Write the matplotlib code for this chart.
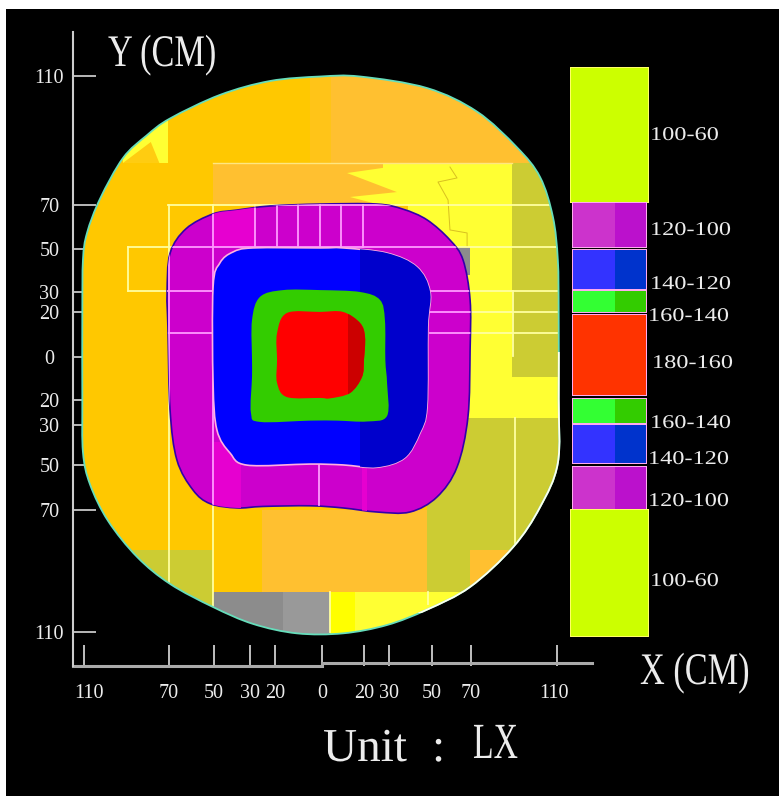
#!/usr/bin/env python3
"""Illuminance map of a circular work plane, unit LX."""

import matplotlib

matplotlib.use("Agg")

import matplotlib.pyplot as plt
from matplotlib.patches import PathPatch, Polygon, Rectangle
from matplotlib.path import Path
from matplotlib.patheffects import AbstractPathEffect
from matplotlib.transforms import Affine2D

# outlines in cm
DISC = [(-0.9, 130.6), (17.8, 130.6), (49.1, 125.2), (72.4, 114.2), (91.1, 97.5), (101.9, 83.6),
        (107.9, 65.0), (110.2, 44.9), (110.6, 20), (110.6, -20), (110.2, -50), (101.9, -70.6),
        (89.3, -89.3), (69.2, -107.9), (49.1, -118.5), (30.4, -125.7), (9.8, -129.6), (-11.7, -129.6),
        (-32.2, -125.2), (-50.9, -117.3), (-71, -106.5), (-86.4, -93.9), (-100, -77), (-108.4, -60),
        (-111.7, -45), (-112, -20), (-112, 20), (-111.7, 44.9), (-109.8, 57.5), (-103.7, 73.5),
        (-93, 92.5), (-82, 103), (-71, 111), (-47.7, 122), (-24.3, 128.5)]
BAND_100 = [(-50.9, 66.4), (-63.5, 59.5), (-71, 48), (-72.4, 29.4), (-72, 13.6), (-71, -25.2),
            (-67.8, -48.6), (-60.3, -62.6), (-52.3, -69), (-39.7, -71), (-27.6, -70.3),
            (-5.6, -70), (9.8, -71), (25.7, -72.9), (41.1, -72.9), (53.7, -65.9), (63.1, -51.9),
            (68.2, -28.5), (69.2, 2.8), (69.2, 26.2), (65.9, 44.9), (59.8, 54.2), (49.1, 63.6),
            (37.9, 68.6), (25.7, 71), (-0.9, 71), (-24.3, 70.1), (-39.7, 68.2)]
BAND_120 = [(-50.9, 32.2), (-47.7, 43.5), (-41.6, 48.6), (-32.2, 50.5), (-0.9, 50.5), (9.8, 50.5),
            (30.4, 48.1), (44.4, 41.6), (50.5, 30), (49.5, 13.6), (49.1, -23.8), (45.8, -36),
            (38.7, -47.6), (25.7, -52), (9.8, -50.9), (-5.6, -50.5), (-35, -51), (-43, -45.3),
            (-49.1, -34.6), (-50.9, -12.6)]
BAND_140 = [(-32.7, -1.9), (-32.7, 16.8), (-29, 27.6), (-18.2, 30.8), (-0.9, 30.8), (17.8, 29.9),
            (27.1, 26.2), (29.4, 16.8), (29.6, -1.9), (30.4, -12.6), (30.4, -28), (21, -30.6),
            (7, -30.2), (-5.6, -30.2), (-29, -30.8), (-33.2, -26.6), (-32.7, -9.8)]
BAND_160 = [(-21, -1.9), (-21, 10.7), (-16.4, 20.1), (-0.9, 20.6), (9.8, 20.6), (17.8, 15.4),
            (20.1, 8.9), (19.6, -1.9), (18.7, -9.8), (13.1, -17.3), (3.7, -19.8), (-0.9, -19.6),
            (-16.4, -19.2), (-21, -12.6)]

# measured zones behind the contours: (x0, x1, y0, y1) in cm
MID_ORANGE = [(-5.6, 4, 90.2, 135)]
PALE_ORANGE = [(4, 115, 90.2, 135), (-50.9, 88.8, 70.6, 90.2), (-28, 49.1, -110.3, -72)]
YELLOW = [(40, 88.8, -29, 70.6), (88.8, 115, -29, -9.8), (3.7, 70, -135, -110.3), (-93, -72, 90.2, 115)]
OLIVE = [(88.8, 115, -9.8, 90.2), (69.2, 115, -135, -29), (49.1, 69.2, -110.3, -29),
         (-95, -50.9, -135, -90.7)]
LATE_ORANGE = [(69.2, 88, -125, -90.7)]
BRIGHT_YELLOW = [(3.7, 15.4, -135, -110.3)]
GRAY = [(-50.9, 3.7, -135, -110.3), (60, 69, 38, 50.9)]
LIGHT_GRAY = [(-18.2, 3.7, -135, -110.3)]
YELLOW_WEDGE = [(28.5, 90.2), (28.5, 87.9), (11.7, 85.5), (35, 76.6), (13.1, 74.3), (27.1, 70.6),
                (88.8, 70.6), (88.8, 90.2)]
ORANGE_WEDGE = [(-93, 90.2), (-80, 100), (-76, 90.2)]
HOT_MAGENTA = [(-50.9, -31.3, 50.9, 70.6), (-50.9, -38, -72, -40), (18.7, 21, -75, -50)]

# grid traced on the disc, in cm
GRID_H = [(70.6, -72, 108), (50.9, -90.7, 110), (30.4, -90.7, -50.9), (30.4, 50.5, 110),
          (20.6, 50.5, 110), (10.7, 50.5, 110), (10.7, -72, -50.9)]
GRID_V = [(-90.7, 30.4, 50.9), (-71.5, -106, 70.6), (-50.9, -116.8, 70.6), (90.2, -89, -29),
          (89.3, 0, 30.4), (49.5, -116, -110.3), (3.7, -129, -110.3), (-31.3, 50.9, 70.6),
          (-21, 50.9, 70.6), (-11.2, 50.9, 70.6), (-0.9, 50.9, 70.6), (8.9, 50.9, 70.6),
          (19.2, 50.9, 70.6), (-1.4, -69.6, -50)]
ZIGZAG = [(59.8, 88.3), (63.1, 83.2), (54.2, 81.3), (58.9, 72.9), (59.8, 58.9), (67.8, 57.5), (67.8, 50.9)]

# ticks stand where the picture has them; its y axis is not to scale past +-70
X_TICKS = [-111.2, -71.5, -50.5, -33.6, -22, 0, 19.6, 31.3, 51.4, 69.6, 109.8]
X_LABELS = ["110", "70", "50", "30", "20", "0", "20", "30", "50", "70", "110"]
Y_TICKS = [130.8, 70.6, 50, 29.9, 20.6, -0.5, -20.6, -32.2, -50.9, -72, -129]
Y_LABELS = ["110", "70", "50", "30", "20", "0", "20", "30", "50", "70", "110"]

LEGEND_LABELS = ["100-60", "120-100", "140-120", "160-140", "180-160", "160-140", "140-120", "120-100", "100-60"]
LEGEND_LEFT = ["#ccff00", "#cc33cc", "#3333ff", "#33ff33", "#ff3300", "#33ff33", "#3333ff", "#cc33cc", "#ccff00"]
LEGEND_RIGHT = ["#ccff00", "#bb11cc", "#0033cc", "#33cc00", "#ff3300", "#33cc00", "#0033cc", "#bb11cc", "#ccff00"]

WIDTH, HEIGHT = 779, 796
SCALE = 2.14  # px per cm
TEXT = "#ececec"
SERIF = "Liberation Serif"
LEGEND_TOP = [68, 203, 250, 291, 315, 399, 425, 467, 510]
LEGEND_BOTTOM = [202, 247, 289, 312, 395, 423, 463, 509, 636]
LEGEND_TEXT_X = [650, 650, 650, 648, 652, 650, 648, 648, 650]
LEGEND_TEXT_Y = [134, 229, 283, 315, 362, 422, 458, 500, 580]


class Stretch(AbstractPathEffect):
    """The original lettering is condensed or widened; scale glyphs about the text origin."""

    def __init__(self, sx, sy):
        super().__init__()
        self.sx, self.sy = sx, sy

    def draw_path(self, renderer, gc, tpath, affine, rgbFace=None):
        renderer.draw_path(gc, tpath, Affine2D().scale(self.sx, self.sy) + affine, rgbFace)


def smooth_path(points):
    """Closed Catmull-Rom curve through every outline point."""
    count = len(points)
    verts, codes = [points[0]], [Path.MOVETO]
    for i in range(count):
        before, start = points[i - 1], points[i]
        end, after = points[(i + 1) % count], points[(i + 2) % count]
        verts.append((start[0] + (end[0] - before[0]) / 6, start[1] + (end[1] - before[1]) / 6))
        verts.append((end[0] - (after[0] - start[0]) / 6, end[1] - (after[1] - start[1]) / 6))
        verts.append(end)
        codes += [Path.CURVE4] * 3
    return Path(verts, codes)


def add_tiles(axis, tiles, color, clip, zorder):
    for x0, x1, y0, y1 in tiles:
        patch = Rectangle((x0, y0), x1 - x0, y1 - y0, facecolor=color, edgecolor="none", zorder=zorder)
        axis.add_patch(patch)
        patch.set_clip_path(clip)


def add_grid(axis, color, clip, zorder):
    for y, x0, x1 in GRID_H:
        line, = axis.plot([x0, x1], [y, y], color=color, linewidth=1.3, zorder=zorder)
        line.set_clip_path(clip)
    for x, y0, y1 in GRID_V:
        line, = axis.plot([x, x], [y0, y1], color=color, linewidth=1.3, zorder=zorder)
        line.set_clip_path(clip)


def main():
    figure = plt.figure(figsize=(WIDTH / 100, HEIGHT / 100), dpi=100, facecolor="white")
    to_px = Affine2D().scale(1, -1).translate(0, HEIGHT)
    figure.add_artist(Rectangle((6, 9), WIDTH - 6, HEIGHT - 9, transform=to_px, facecolor="black",
                                edgecolor="none", zorder=-1))

    left, right, top, bottom = 73, 592, 32, 666
    axis = figure.add_axes([left / WIDTH, 1 - bottom / HEIGHT, (right - left) / WIDTH, (bottom - top) / HEIGHT])
    axis.patch.set_visible(False)
    axis.set_xlim((left - 322) / SCALE, (right - 322) / SCALE)
    axis.set_ylim((356 - bottom) / SCALE, (356 - top) / SCALE)
    axis.set_axisbelow(True)
    axis.spines[["top", "right"]].set_visible(False)
    axis.spines["left"].set_color("#cccccc")
    axis.spines["left"].set_linewidth(1.5)
    axis.spines["bottom"].set_visible(False)
    axis.plot([axis.get_xlim()[0], 0], [axis.get_ylim()[0]] * 2, color="#aaaaaa", linewidth=2.2, clip_on=False)
    axis.plot([0, axis.get_xlim()[1]], [axis.get_ylim()[0] + 1.4] * 2, color="#aaaaaa", linewidth=2.2, clip_on=False)

    axis.set_xticks(X_TICKS, X_LABELS)
    axis.set_yticks(Y_TICKS, Y_LABELS)
    axis.tick_params(axis="x", direction="in", length=15, width=1.2, color="#e0e0e0", labelcolor=TEXT,
                     labelsize=14.5, pad=13)
    axis.tick_params(axis="y", direction="in", length=16.5, width=1.2, color="#d8d8d8", labelcolor=TEXT,
                     labelsize=14.5, pad=17)
    for label in axis.get_xticklabels() + axis.get_yticklabels():
        label.set_fontfamily(SERIF)
    for label in axis.get_yticklabels():
        label.set_horizontalalignment("center")
    # the outer x labels sit a little off their ticks in the original
    x_labels = axis.get_xticklabels()
    x_labels[0].set_transform(x_labels[0].get_transform() + Affine2D().translate(5, 0))
    x_labels[-1].set_transform(x_labels[-1].get_transform() + Affine2D().translate(-3, 0))

    disc = PathPatch(smooth_path(DISC), facecolor="#ffc800", edgecolor="none", zorder=1)
    axis.add_patch(disc)
    add_tiles(axis, MID_ORANGE, "#ffc418", disc, 1.1)
    add_tiles(axis, PALE_ORANGE, "#ffc030", disc, 1.1)
    add_tiles(axis, YELLOW, "#ffff33", disc, 1.2)
    wedge = Polygon(YELLOW_WEDGE, facecolor="#ffff33", edgecolor="none", zorder=1.2)
    axis.add_patch(wedge)
    add_tiles(axis, OLIVE, "#cccc33", disc, 1.3)
    add_tiles(axis, LATE_ORANGE, "#ffc030", disc, 1.4)
    add_tiles(axis, BRIGHT_YELLOW, "#ffff00", disc, 1.4)
    add_tiles(axis, GRAY, "#8c8c8c", disc, 1.4)
    add_tiles(axis, LIGHT_GRAY, "#999999", disc, 1.45)
    corner = Polygon(ORANGE_WEDGE, facecolor="#ffcc11", edgecolor="none", zorder=1.4)
    axis.add_patch(corner)
    corner.set_clip_path(disc)
    axis.plot(*zip(*ZIGZAG), color="#d8c020", linewidth=0.7, zorder=1.5)
    axis.plot([-50.9, 88.8], [90.2, 90.2], color="#ffe680", linewidth=1.0, zorder=1.5)
    add_grid(axis, "#ffffa0", disc, 1.6)
    rim = PathPatch(smooth_path(DISC), facecolor="none", edgecolor="#66ddbb", linewidth=1.3, zorder=1.7)
    axis.add_patch(rim)
    # lower right stretch of the rim is white in the original
    white_rim = PathPatch(smooth_path(DISC), facecolor="none", edgecolor="#ffffee", linewidth=1.3, zorder=1.75)
    axis.add_patch(white_rim)
    white_rim.set_clip_path(Rectangle((45, -120), 70, 122, transform=axis.transData))

    band_100 = PathPatch(smooth_path(BAND_100), facecolor="#cc00cc", edgecolor="#3300aa", linewidth=1.2, zorder=2)
    axis.add_patch(band_100)
    add_tiles(axis, HOT_MAGENTA, "#e600d0", band_100, 2.05)
    add_grid(axis, "#ff99ff", band_100, 2.1)

    band_120 = PathPatch(smooth_path(BAND_120), facecolor="#0000ff", edgecolor="#ffb0e0", linewidth=1.2, zorder=3)
    axis.add_patch(band_120)
    add_tiles(axis, [(17.8, 60, -60, 60)], "#0000cc", band_120, 3.05)

    band_140 = PathPatch(smooth_path(BAND_140), facecolor="#33cc00", edgecolor="none", zorder=4)
    axis.add_patch(band_140)
    band_160 = PathPatch(smooth_path(BAND_160), facecolor="#ff0000", edgecolor="none", zorder=5)
    axis.add_patch(band_160)
    add_tiles(axis, [(12.2, 30, -30, 30)], "#cc0000", band_160, 5.05)

    # colour key, laid out in picture pixels
    for name, y0, y1, shade_l, shade_r, tx, ty in zip(LEGEND_LABELS, LEGEND_TOP, LEGEND_BOTTOM, LEGEND_LEFT,
                                                      LEGEND_RIGHT, LEGEND_TEXT_X, LEGEND_TEXT_Y):
        lime = name == "100-60"
        x0, x1 = (571, 648) if lime else (573, 646)
        edge = "#ffff66" if lime else "#ffaaee"
        figure.add_artist(Rectangle((x0 - 1, y0 - 1), x1 - x0 + 2, y1 - y0 + 2, transform=to_px,
                                    facecolor=edge, edgecolor="none", zorder=3))
        figure.add_artist(Rectangle((x0, y0), 42, y1 - y0, transform=to_px, facecolor=shade_l,
                                    edgecolor="none", zorder=3))
        figure.add_artist(Rectangle((x0 + 42, y0), x1 - x0 - 42, y1 - y0, transform=to_px, facecolor=shade_r,
                                    edgecolor="none", zorder=3))
        figure.text(tx, ty + 6, name, transform=to_px, color=TEXT, family=SERIF, fontsize=14, ha="left",
                    va="baseline", path_effects=[Stretch(1.25, 1.0)])

    for text, x, y, size, sx, sy in [("Y (CM)", 108, 66, 26, 0.95, 1.25), ("X (CM)", 640, 684, 26, 0.95, 1.25),
                                     ("Unit", 323, 761, 34, 1.0, 1.0), (":", 432, 761, 34, 1.0, 1.0),
                                     ("LX", 473, 758, 27, 0.9, 1.35)]:
        figure.text(x, y, text, transform=to_px, color=TEXT, family=SERIF, fontsize=size, ha="left",
                    va="baseline", path_effects=[Stretch(sx, sy)])

    figure.savefig("out.png", dpi=100, facecolor=figure.get_facecolor())
    plt.close(figure)


if __name__ == "__main__":
    main()
